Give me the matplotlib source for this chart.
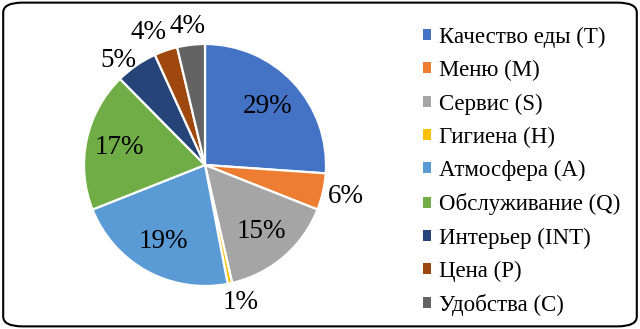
import numpy as np
import matplotlib.pyplot as plt
from matplotlib.patches import FancyBboxPatch, Patch

labels = ['Качество еды (Т)', 'Меню (М)', 'Сервис (S)', 'Гигиена (H)', 'Атмосфера (А)',
          'Обслуживание (Q)', 'Интерьер (INT)', 'Цена (Р)', 'Удобства (С)']
values = [26.1, 4.9, 15.4, 0.6, 22.0, 18.6, 5.6, 3.1, 3.7]
pct_labels = ['29%', '6%', '15%', '1%', '19%', '17%', '5%', '4%', '4%']
colors = ['#4472C4', '#ED7D31', '#A5A5A5', '#FFC000', '#5B9BD5',
          '#70AD47', '#264478', '#9E480E', '#636363']

# label placement (radius as fraction of pie radius, angle nudge in degrees)
label_r = [0.71, 1.19, 0.72, 1.17, 0.72, 0.72, 1.12, 1.19, 1.15]
label_nudge = [0, 0, 0, 2.5, 0, 0, 5, 4, 0.5]

plt.rcParams['font.family'] = ['Liberation Serif', 'DejaVu Serif']

fig = plt.figure(figsize=(6.4, 3.29), dpi=100)

# pie axes: center ~ (205,165) px, radius ~121 px
W, H = 640, 329
r = 121
cx, cy = 205, 329 - 165
ax = fig.add_axes([(cx - r) / W, (cy - r) / H, 2 * r / W, 2 * r / H])

wedges, texts = ax.pie(values, colors=colors, startangle=90, counterclock=False,
                       wedgeprops=dict(edgecolor='white', linewidth=1.6))
ax.set_xlim(-1, 1)
ax.set_ylim(-1, 1)
ax.set_aspect('equal')

cum = np.cumsum([0] + values[:-1])
for i, v in enumerate(values):
    mid = 90 - (cum[i] + v / 2) / sum(values) * 360 + label_nudge[i]
    a = np.deg2rad(mid)
    ax.text(label_r[i] * np.cos(a), label_r[i] * np.sin(a), pct_labels[i],
            ha='center', va='center', fontsize=19.5, color='black', clip_on=False)

handles = [Patch(facecolor=c, edgecolor='none') for c in colors]
fig.legend(handles, labels, loc='center left', bbox_to_anchor=(0.661, 0.479),
           frameon=False, fontsize=16.5, handlelength=0.36, handleheight=0.36,
           handletextpad=0.32, labelspacing=0.53, borderpad=0, borderaxespad=0)

# rounded border
border = FancyBboxPatch((0.005, 0.008), 0.99, 0.984, boxstyle='round,pad=0,rounding_size=0.03',
                        transform=fig.transFigure, fill=False, edgecolor='black', linewidth=1.5)
fig.patches.append(border)

fig.savefig('out.png', dpi=100)
